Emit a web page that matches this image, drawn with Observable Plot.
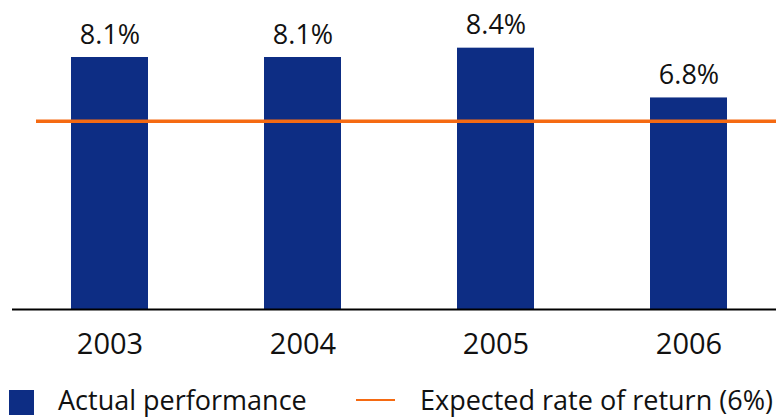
<!DOCTYPE html>
<html>
<head>
<meta charset="utf-8">
<script src="https://cdn.jsdelivr.net/npm/d3@7"></script>
<script src="https://cdn.jsdelivr.net/npm/@observablehq/plot@0.6"></script>
<style>
  html, body { margin: 0; padding: 0; background: #fff; overflow: hidden; width: 776px; height: 417px; }
  #chart svg { overflow: hidden; display: block; }
  #legend { position: relative; width: 776px; height: 45px; font-family: "Open Sans", sans-serif; font-size: 27px; color: #111; white-space: nowrap; }
  #legend .sw { position: absolute; left: 9px; top: 18px; width: 25px; height: 25px; background: #0d2d84; }
  #legend .ln { position: absolute; left: 356px; top: 27px; width: 39px; height: 2px; background: #f56a12; }
  #legend .t { position: absolute; line-height: 1; top: 14px; }
</style>
</head>
<body>
<div id="chart"></div>
<div id="legend">
  <div class="sw"></div><span class="t" style="left:58px">Actual performance</span>
  <div class="ln"></div><span class="t" style="left:420px">Expected rate of return (6%)</span>
</div>
<script>
const years = ["2003", "2004", "2005", "2006"];
const performance = [8.1, 8.1, 8.4, 6.8];
const expectedReturn = 6;

const data = years.map((year, i) => ({year, value: performance[i]}));

const chart = Plot.plot({
  width: 776,
  height: 372,
  marginLeft: 12,
  marginRight: 0,
  marginTop: 29,
  marginBottom: 63,
  style: {fontFamily: "Open Sans, sans-serif", color: "#111", background: "#fff", overflow: "hidden"},
  x: {type: "band", domain: years, range: [12, 787], paddingInner: 0.6, paddingOuter: 0.3, align: 0.5},
  y: {domain: [0, 9], axis: null},
  marks: [
    Plot.barY(data, {x: "year", y: "value", fill: "#0d2d84"}),
    Plot.ruleY([expectedReturn], {stroke: "#f56a12", strokeWidth: 3.5, dx: 24, dy: -1.5}),
    Plot.ruleY([0], {stroke: "#000", strokeWidth: 2}),
    Plot.text(data, {x: "year", y: "value", text: d => d.value.toFixed(1) + "%", lineAnchor: "bottom", dy: -14, fontSize: 27, fill: "#111"}),
    Plot.axisX({tickSize: 0, tickPadding: 24, fontSize: 29, label: null, fill: "#111"})
  ]
});
document.getElementById("chart").appendChild(chart);
</script>
</body>
</html>
